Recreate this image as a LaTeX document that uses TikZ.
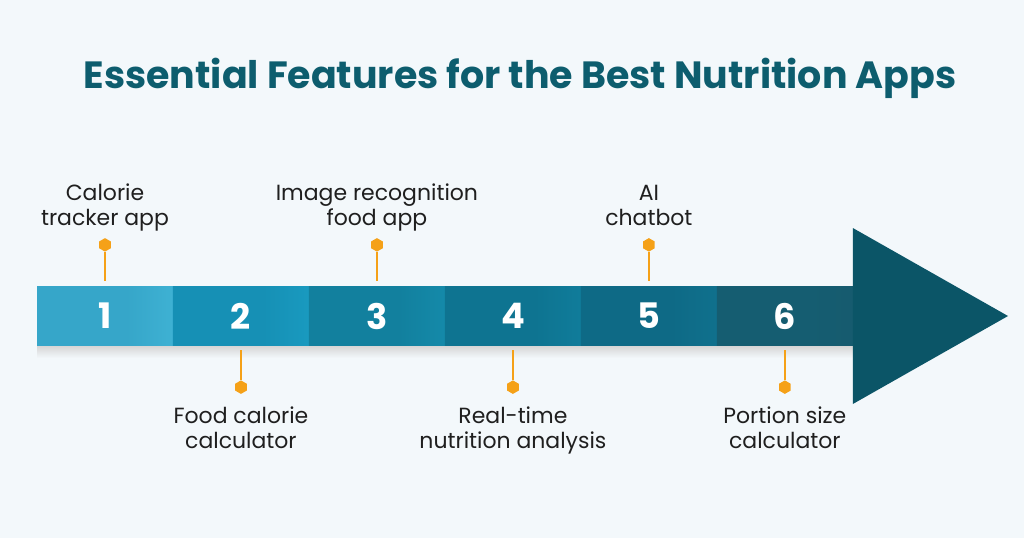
\documentclass[tikz,border=0pt]{standalone}
\usepackage{fontspec}
\setmainfont{Poppins}
\usetikzlibrary{calc, positioning, shapes.geometric}

\definecolor{bgcolor}{HTML}{F3F8FB}
\definecolor{titlecolor}{HTML}{0D5D6E}
\definecolor{pincolor}{HTML}{F5A118}
\definecolor{headcolor}{HTML}{0B5567}
\definecolor{segA}{HTML}{36A6C9}
\definecolor{segAlight}{HTML}{4AC2E2}
\definecolor{segB}{HTML}{1690B5}
\definecolor{segBlight}{HTML}{1DA8CE}
\definecolor{segC}{HTML}{12809E}
\definecolor{segClight}{HTML}{1898BA}
\definecolor{segD}{HTML}{0E7491}
\definecolor{segDlight}{HTML}{1388A8}
\definecolor{segE}{HTML}{0E6A86}
\definecolor{segElight}{HTML}{127A97}
\definecolor{segF}{HTML}{155D71}
\definecolor{segFlight}{HTML}{17586B}

% base colour on the left, brighter towards the right edge
\newcommand{\segshade}[3]{%
  \pgfdeclarehorizontalshading{#1}{100bp}{color(0bp)=(#2); color(58bp)=(#2); color(100bp)=(#3)}}
\segshade{shadeA}{segA}{segAlight}
\segshade{shadeB}{segB}{segBlight}
\segshade{shadeC}{segC}{segClight}
\segshade{shadeD}{segD}{segDlight}
\segshade{shadeE}{segE}{segElight}
\segshade{shadeF}{segF}{segFlight}

\tikzstyle{title} = [% heading above the arrow
  font=\bfseries\fontsize{21.6}{24}\selectfont,
  text=titlecolor,
  inner sep=0pt
]
\tikzstyle{label} = [% feature name beside a pin
  font=\fontsize{12.5}{14.3}\selectfont,
  align=center,
  text=black!88,
  inner sep=0pt
]
\tikzstyle{dot} = [% hexagonal head of a pin
  regular polygon,
  regular polygon sides=6,
  shape border rotate=30,
  minimum size=0.27cm,
  inner sep=0pt,
  fill=pincolor
]
\tikzstyle{pin} = [% stem of a pin
  draw=pincolor,
  line width=1.3pt
]
\tikzstyle{head} = [% point of the arrow
  fill=headcolor
]
\tikzset{
  segment/.style={% one numbered block of the shaft
    rectangle,
    minimum width=2.72cm,
    minimum height=1.2cm,
    inner sep=0pt,
    outer sep=0pt,
    shading=#1,
    text=white,
    font=\bfseries\fontsize{20}{20}\selectfont
  }
}

\begin{document}
\begin{tikzpicture}[x=0.02cm, y=-0.02cm]

%%% Background
\fill[bgcolor] (0,0) rectangle (1024,538);
\useasboundingbox (0,0) rectangle (1024,538);

\node[title, anchor=base] (title) at (520,88) {Essential Features for the Best Nutrition Apps};

%%% Shaft
\node[segment=shadeA, anchor=west] (seg1) at (37,316) {1};
\node[segment=shadeB] (seg2) [right=0pt of seg1] {2};
\node[segment=shadeC] (seg3) [right=0pt of seg2] {3};
\node[segment=shadeD] (seg4) [right=0pt of seg3] {4};
\node[segment=shadeE] (seg5) [right=0pt of seg4] {5};
\node[segment=shadeF] (seg6) [right=0pt of seg5] {6};

% soft shadow under the shaft
\shade[top color=black!16, bottom color=bgcolor]
  (seg1.south west) rectangle ($(seg6.south east)+(0,12)$);

\coordinate (tip) at (1008,316);
\fill[head] ($(seg6.east)+(0,-88)$) -- (tip) -- ($(seg6.east)+(0,88)$) -- cycle;

%%% Pins
\node[dot] (dot1) [above=0.68cm of seg1] {};
\node[dot] (dot3) [above=0.68cm of seg3] {};
\node[dot] (dot5) [above=0.68cm of seg5] {};
\node[dot] (dot2) [below=0.68cm of seg2] {};
\node[dot] (dot4) [below=0.68cm of seg4] {};
\node[dot] (dot6) [below=0.68cm of seg6] {};

\draw[pin, shorten >=0.1cm] (dot1) -- (seg1);
\draw[pin, shorten >=0.1cm] (dot3) -- (seg3);
\draw[pin, shorten >=0.1cm] (dot5) -- (seg5);
\draw[pin, shorten <=0.08cm] (seg2) -- (dot2);
\draw[pin, shorten <=0.08cm] (seg4) -- (dot4);
\draw[pin, shorten <=0.08cm] (seg6) -- (dot6);

%%% Labels
\node[label, text depth=3pt] (lab1) [above=3.5pt of dot1] {Calorie\\tracker app};
\node[label, text depth=3pt] (lab3) [above=3.5pt of dot3] {Image recognition\\food app};
\node[label, text depth=3pt] (lab5) [above=3.5pt of dot5] {AI\\chatbot};
\node[label] (lab2) [below=7pt of dot2] {Food calorie\\calculator};
\node[label] (lab4) [below=7pt of dot4] {Real-time\\nutrition analysis};
\node[label] (lab6) [below=7pt of dot6] {Portion size\\calculator};

\end{tikzpicture}
\end{document}
